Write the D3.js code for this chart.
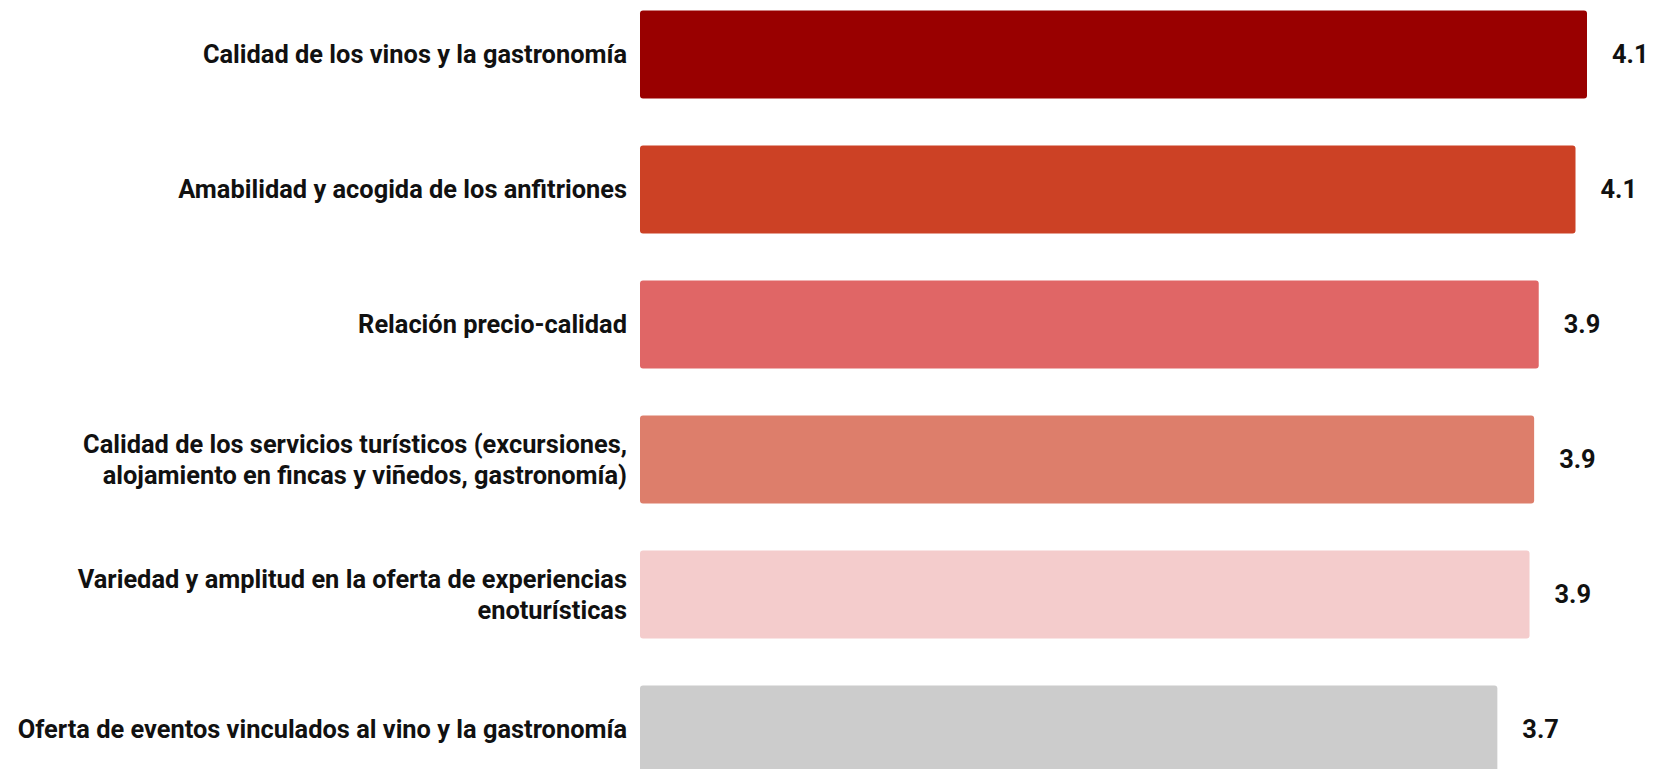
<!DOCTYPE html>
<html>
<head>
<meta charset="utf-8">
<script src="https://cdn.jsdelivr.net/npm/d3@7"></script>
<style>
  html, body { margin: 0; padding: 0; background: #ffffff; }
  svg { display: block; }
  text { font-family: Roboto, "Noto Sans", sans-serif; fill: #111111; }
</style>
</head>
<body>
<svg id="chart" width="1653" height="769"></svg>
<script>
// Average rating per aspect of the wine-tourism experience (scale 1–5)
const categories = [
  "Calidad de los vinos y la gastronomía",
  "Amabilidad y acogida de los anfitriones",
  "Relación precio-calidad",
  "Calidad de los servicios turísticos (excursiones,|alojamiento en fincas y viñedos, gastronomía)",
  "Variedad y amplitud en la oferta de experiencias|enoturísticas",
  "Oferta de eventos vinculados al vino y la gastronomía"
];
const values = [4.12, 4.07, 3.91, 3.89, 3.87, 3.73];
const barColors = ["#990000", "#cc4125", "#e06666", "#dd7e6b", "#f4cccc", "#cccccc"];

const svg = d3.select("#chart");
const fmt = d3.format(".1f");
const fontSize = 25.4;

const x = d3.scaleLinear().domain([0, 4.12]).range([640, 1587]);
const y = d3.scaleBand()
  .domain(categories)
  .range([10.5, 773.5])
  .paddingInner(0.348)
  .paddingOuter(0);

const rows = svg.selectAll("g.row")
  .data(categories.map((c, i) => ({ cat: c, value: values[i], color: barColors[i] })))
  .join("g")
  .attr("class", "row");

rows.append("rect")
  .attr("x", x(0))
  .attr("y", d => y(d.cat))
  .attr("width", d => x(d.value) - x(0))
  .attr("height", y.bandwidth())
  .attr("rx", 3)
  .attr("fill", d => d.color);

// Value labels to the right of each bar
rows.append("text")
  .attr("x", d => x(d.value) + 25)
  .attr("y", d => y(d.cat) + y.bandwidth() / 2)
  .attr("dy", "0.35em")
  .attr("font-size", fontSize)
  .attr("font-weight", 700)
  .text(d => fmt(d.value));

// Category labels, right-aligned against the bars; "|" marks a line break
const lineH = 31.6;
rows.append("text")
  .attr("text-anchor", "end")
  .attr("font-size", fontSize)
  .attr("font-weight", 700)
  .each(function (d) {
    const lines = d.cat.split("|");
    const cy = y(d.cat) + y.bandwidth() / 2;
    const first = cy - (lines.length - 1) * lineH / 2;
    d3.select(this).selectAll("tspan")
      .data(lines)
      .join("tspan")
      .attr("x", 627)
      .attr("y", (l, k) => first + k * lineH)
      .attr("dy", "0.35em")
      .text(l => l);
  });
</script>
</body>
</html>
